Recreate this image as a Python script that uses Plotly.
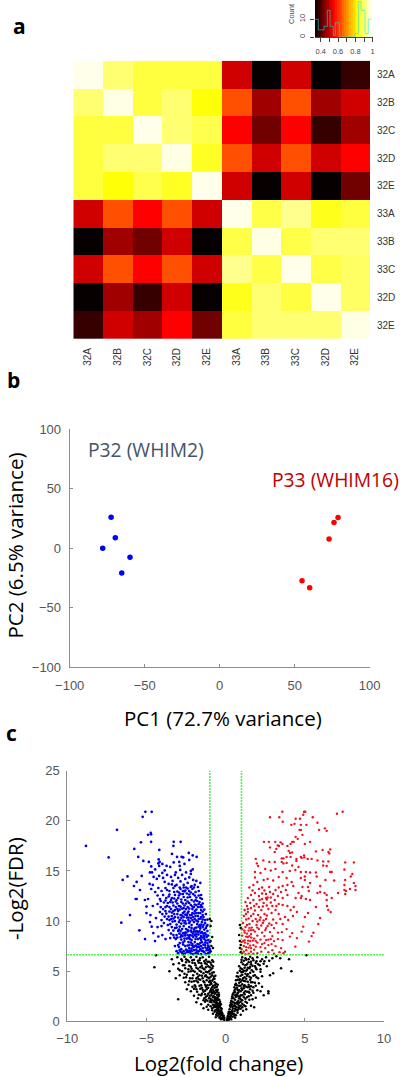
import plotly.graph_objects as go

W, H = 400, 1077
heat_cols = ["32A","32B","32C","32D","32E","33A","33B","33C","32D","32E"]
heat_rows = ["32A","32B","32C","32D","32E","33A","33B","33C","32D","32E"]
heat_z = [
 [.985,.90,.865,.865,.865,.51,.34,.51,.34,.38],
 [.90,.98,.865,.90,.825,.635,.47,.635,.47,.51],
 [.865,.865,.985,.90,.875,.55,.43,.55,.38,.47],
 [.865,.90,.90,.98,.845,.635,.51,.635,.51,.55],
 [.865,.825,.875,.845,.985,.51,.34,.51,.34,.43],
 [.51,.635,.55,.635,.51,.985,.87,.92,.84,.865],
 [.34,.47,.43,.51,.34,.87,.98,.87,.90,.90],
 [.51,.635,.55,.635,.51,.92,.87,.985,.87,.89],
 [.34,.47,.38,.51,.34,.84,.90,.865,.985,.89],
 [.38,.51,.47,.55,.43,.865,.90,.90,.90,.98],
]
key_levels = [.34,.36,.38,.40,.42,.44,.46,.48,.50,.52,.54,.56,.58,.60,.62,.64,.66,.68,.70,.72,.74,.76,.78,.80,.82,.84,.86,.88,.90,.92,.94,.96,.98,1.0]
hist_breaks = [.336,.372,.438,.476,.507,.545,.568,.614,.795,.834,.865,.911,.949,.988]
hist_counts = [10,4,6,15,6,1,8,0,2,20,15,2,10,10]

pc_p32_x = [-72.4,-69.6,-78,-59.8,-65.3]
pc_p32_y = [26,8.7,0,-7.6,-21]
pc_p33_x = [78.9,76.2,72.9,54.9,60]
pc_p33_y = [25.8,21.6,7.6,-27.5,-33.4]

blue_pts = [
(-5.07,20.9),(-4.67,20.9),(-5.24,20.4),(-6.86,19.1),(-4.73,18.8),(-4.9,18.6),(-4.71,18.65),(-8.82,17.5),(-5.35,17.85),(-4.71,17.9),(-3.28,17.9),(-2.84,17.9),(-3.3,17.5),(-5.77,17.2),(-4.19,17.1),(-7.39,16.35),(-5.52,16.4),(-3.39,16.7),(-2.33,16.8),(-2.08,16.55),(-1.83,16.4),(-3.07,16.4),(-2.78,16.4),(-2.68,16.35),(-5.2,16.0),(-4.85,15.9),(-4.23,16.15),(-4.17,15.9),(-4.25,15.75),(-3.28,15.85),(-2.93,15.9),(-2.9,15.5),(-2.6,15.7),(-2.3,16.1),(-4.7,15.45),(-4.2,15.5),(-4.0,15.7),(-3.73,15.5),(-3.5,15.4),(-4.45,15.15),(-4.78,14.85),(-4.65,14.85),(-3.85,15.05),(-4.0,14.8),(-2.87,15.1),(-2.08,15.15),(-3.15,14.85),(-2.5,14.85),(-2.2,15.0),(-2.2,14.7),(-6.2,14.45),(-6.5,14.1),(-5.62,13.9),(-5.79,13.5),(-5.41,13.1),(-5.3,14.5),(-5.68,12.2),(-5.1,12.1),(-5.0,11.45),(-6.59,9.84),(-6.04,10.6),(-5.45,9.08),(-5.09,8.2),(-5.0,10.8),(-4.78,9.9),(-4.67,9.44),(-4.57,8.8),(-4.46,8.0),(-4.25,8.45),(-4.0,8.6),(-3.8,8.2),(-5.62,12.2),(-4.9,12.2),(-4.6,11.5),(-4.75,10.6),(-4.4,10.3),(-4.3,9.4),(-4.05,9.5),
(-4.8,13.7),(-4.6,13.6),(-4.7,13.2),(-4.45,12.9),(-4.55,14.4),(-4.35,14.2),(-4.2,14.5),(-3.95,14.3),(-3.7,14.6),(-3.45,14.4),(-3.2,14.6),(-3.0,14.3),(-2.75,14.6),(-2.55,14.2),(-2.3,14.35),(-2.05,14.1),(-1.85,14.0),(-3.85,13.9),(-3.6,13.7),(-3.35,14.0),(-3.1,13.6),(-2.85,13.95),(-2.65,13.6),(-2.4,13.8),(-2.15,13.5),(-1.95,13.6),(-1.75,13.4),(-1.6,13.8),(-4.25,13.3),(-4.05,13.0),(-3.8,13.3),(-3.55,13.0),(-3.3,13.3),(-3.05,12.95),(-2.9,13.35),(-2.7,13.0),(-2.5,13.35),(-2.3,13.0),(-2.1,13.2),(-1.9,12.9),(-1.7,13.0),(-1.55,12.6),
(-4.3,12.55),(-4.15,12.2),(-3.95,12.6),(-3.75,12.3),(-3.55,12.65),(-3.4,12.3),(-3.2,12.6),(-3.0,12.3),(-2.85,12.7),(-2.65,12.4),(-2.45,12.75),(-2.25,12.4),(-2.05,12.7),(-1.85,12.35),(-1.7,12.55),(-1.5,12.2),(-1.45,11.75),(-4.3,11.7),(-4.1,11.4),(-3.9,11.85),(-3.7,11.5),(-3.5,11.9),(-3.3,11.55),(-3.15,11.95),(-2.95,11.5),(-2.8,11.9),(-2.6,11.55),(-2.4,11.95),(-2.2,11.6),(-2.0,11.95),(-1.85,11.6),(-1.65,11.9),(-1.6,11.4),(-3.05,11.2),(-3.2,11.1),(-2.9,11.15),(-2.75,11.25),(-2.5,11.2),(-2.3,11.25),(-2.1,11.2),(-1.85,11.15),(-1.55,11.1),(-1.35,11.15),(-4.0,10.7),(-3.8,11.0),(-3.55,10.95),(-3.3,11.0),(-2.6,10.95),(-2.35,10.95),(-1.95,11.0),(-1.45,10.95),
(-3.9,9.8),(-3.7,10.2),(-3.5,9.7),(-3.4,10.5),(-3.2,10.0),(-3.05,10.7),(-2.95,9.9),(-2.8,10.3),(-2.7,10.8),(-2.55,10.0),(-2.45,10.6),(-2.3,9.8),(-2.2,10.3),(-2.1,10.8),(-2.0,9.9),(-1.9,10.5),(-1.8,9.7),(-1.7,10.2),(-1.6,10.8),(-1.5,9.9),(-1.4,10.4),(-1.3,9.8),(-1.25,10.7),(-1.15,9.6),(-1.15,10.15),(-2.65,10.4),(-2.35,10.35),(-2.05,10.4),(-1.75,10.5),(-3.0,10.35),(-2.5,9.75),(-2.15,9.6),(-1.65,9.6),
(-3.5,8.3),(-3.3,8.6),(-3.15,8.2),(-3.0,9.0),(-2.85,8.4),(-2.7,8.8),(-2.6,8.25),(-2.5,9.2),(-2.4,8.6),(-2.25,8.2),(-2.15,8.9),(-2.05,8.4),(-1.95,9.3),(-1.85,8.7),(-1.75,8.2),(-1.65,9.0),(-1.55,8.5),(-1.45,9.4),(-1.35,8.2),(-1.3,8.8),(-1.2,8.4),(-1.1,8.1),(-1.15,9.0),(-3.6,9.1),(-3.4,9.4),(-3.2,9.3),(-2.9,9.45),(-2.65,9.5),(-2.3,9.4),(-2.0,8.95),(-1.7,9.45),(-1.25,9.3),(-2.8,8.15),(-2.35,9.0),(-1.95,8.6),(-1.5,8.9),(-2.55,8.55),
(-3.0,6.8),(-2.8,7.2),(-2.7,6.7),(-2.55,7.5),(-2.45,6.9),(-2.3,7.3),(-2.2,6.75),(-2.1,7.7),(-2.0,7.1),(-1.9,6.8),(-1.8,7.4),(-1.7,7.0),(-1.6,7.8),(-1.55,6.7),(-1.45,7.3),(-1.35,6.9),(-1.3,7.6),(-1.2,7.1),(-1.1,6.8),(-1.05,7.4),(-1.0,7.9),(-1.15,7.8),(-2.9,7.8),(-3.2,7.5),(-2.6,8.0),(-2.35,7.9),(-1.95,7.9),(-1.5,7.9),(-2.75,6.85),(-2.05,6.7),(-1.75,6.75),(-1.25,6.7),(-2.5,7.15),(-1.9,7.55),(-1.4,7.65),(-3.1,7.0),(-2.15,7.25),(-1.6,7.2),(-2.3,6.9),(-1.85,7.15),(-1.0,6.9),(-1.0,7.2),
(-2.95,7.4),(-2.65,7.0),(-2.4,7.55),(-2.15,7.0),(-1.98,7.45),(-1.78,7.7),(-1.52,7.05),(-1.28,7.35),(-1.12,7.55),(-2.85,6.95),(-2.58,6.75),(-2.2,7.85),(-1.68,7.4),(-1.42,7.0),(-1.08,7.1),(-2.68,7.65),(-2.28,7.6),(-1.82,6.95),(-2.35,8.3),(-2.12,8.55),(-1.9,8.2),(-1.72,8.65),(-1.48,8.35),(-1.25,8.65),(-1.12,8.55),(-1.58,8.8),(-1.38,8.55),(-2.48,8.85),(-2.72,8.5),(-2.92,8.75),(-3.1,8.6),(-2.25,8.6),(-1.82,9.0),(-1.6,9.25),(-1.35,9.15),(-1.2,9.5),(-2.15,9.3),(-2.4,9.1),(-2.75,9.2),(-2.95,9.15),(-3.3,9.05),(-1.85,9.35),(-1.55,9.65),(-1.3,10.1),(-1.45,10.15),(-1.6,10.25),(-1.85,10.05),(-2.1,10.1),(-2.35,10.1),(-2.6,9.8),(-2.8,9.75),(-3.1,9.65),(-3.35,9.95),(-3.6,10.45),(-3.2,10.4),(-2.85,10.6),(-2.55,10.65),(-2.25,10.6),(-1.98,10.75),(-1.72,10.8),(-1.45,10.6),(-3.4,10.85),(-3.15,11.4),(-2.65,11.3),(-2.4,11.4),(-2.0,11.4),(-1.75,11.4),(-1.48,11.4),(-3.55,11.4),(-3.8,11.4),(-3.95,11.2),(-3.35,11.85),(-3.05,11.75),(-2.7,11.75),(-2.3,11.8),(-1.95,11.65),(-1.7,11.7),(-2.55,12.1),(-2.8,12.15),(-3.1,12.1),(-3.45,12.1),(-3.8,12.05),(-2.15,12.1),(-1.9,12.1),(-1.6,12.3),(-2.4,12.35),(-2.7,12.7),(-2.95,12.85),(-3.25,12.9),(-3.6,12.45),(-2.2,12.85),(-1.95,12.55),(-2.55,13.05),(-2.85,13.2),(-2.4,13.25),(-2.0,13.35),(-2.65,13.35),(-3.2,13.5),(-3.7,13.1),
(-4.05,10.1),(-4.15,10.9),(-3.85,10.45),(-3.65,9.6),(-3.75,10.75),(-3.45,10.2),(-3.25,10.7),(-3.1,9.35),(-2.85,9.0),(-3.45,8.75),(-3.25,8.35),(-3.05,8.35),(-2.8,8.6),(-2.55,8.85),(-2.3,8.4),(-2.05,8.75),(-1.9,8.95),(-1.62,8.3),(-1.42,8.75),(-1.25,8.05),(-2.45,8.25),(-2.7,7.85),(-2.4,7.05),(-2.05,7.4),(-1.7,7.65),(-1.3,7.85),(-2.1,7.55),(-1.55,7.5),(-1.15,7.3),(-2.25,7.05),(-2.9,7.1),(-3.0,7.6),(-2.15,8.1),(-1.85,8.45),(-1.55,8.1),(-1.35,8.4),(-1.75,8.9),(-2.6,8.7),(-2.2,9.05),(-2.0,9.15),(-1.6,9.45),(-1.4,9.6),(-1.75,9.95),(-1.55,10.4),(-1.95,10.2),(-2.25,9.95),(-2.45,10.35),(-2.7,10.05),(-2.9,10.1),(-3.3,10.25),(-3.55,10.1),(-1.85,10.8),(-2.15,10.6),(-2.4,10.8),(-2.75,10.55),(-3.0,11.0),(-3.45,11.2),(-4.1,12.0),(-3.65,11.8),(-2.5,11.75),(-2.1,11.45),(-1.55,11.6),(-2.85,11.45),(-3.25,12.25),(-2.95,12.55),(-2.3,12.65),(-1.8,12.0),(-2.6,12.95),(-2.2,13.4),(-3.4,13.65),
]
red_pts = [
(3.58,20.9),(4.95,20.9),(5.03,20.9),(7.39,20.9),(7.03,20.7),(2.8,20.35),(3.39,20.35),(4.9,20.6),(3.6,19.9),(4.42,20.2),(4.7,20.2),(5.5,20.35),(4.15,19.6),(4.35,19.7),(4.75,19.6),(5.1,19.6),(5.8,19.8),(5.9,19.1),(6.27,19.25),(6.38,19.0),(4.76,19.1),(4.67,19.1),(4.85,18.6),(4.42,18.4),(4.55,18.2),(2.42,17.9),(2.73,17.9),(3.13,17.9),(3.47,17.85),(3.58,17.7),(4.2,17.9),(4.1,17.7),(3.9,17.5),(4.3,17.9),(5.33,17.9),(5.0,17.7),(2.8,17.35),(3.29,17.55),(3.37,17.5),(3.2,17.2),(3.1,16.9),(5.7,16.95),(6.12,17.1),(6.49,16.9),(6.6,17.15),(6.55,16.75),(3.98,17.0),(4.06,16.8),(4.2,16.85),(4.75,16.4),(4.95,16.55),(4.8,16.3),(5.18,16.2),(5.43,16.2),(4.97,16.35),(4.47,16.2),(4.47,16.0),(4.1,16.4),(3.85,16.4),(3.54,16.25),(3.65,16.25),(1.9,16.2),(1.97,15.75),(2.05,15.5),(2.38,16.05),(2.76,15.9),(3.1,15.9),(3.54,15.9),(3.65,15.75),(3.85,15.8),(4.2,15.55),(5.8,16.05),(6.16,15.95),(6.49,15.95),(6.38,15.5),(6.16,15.55),(7.55,15.85),(8.1,15.85),(7.5,15.15),(6.6,14.9),(6.7,14.9),(8.0,14.7),(7.9,14.45),(7.55,14.1),(8.1,13.8),(7.5,13.6),(8.2,13.5),(8.2,13.1),(7.85,13.2),(7.6,13.0),(7.5,13.1),(7.55,12.7),(7.1,12.8),(6.7,12.3),(6.85,14.05),(6.3,14.1),(5.7,14.85),(5.33,14.85),(5.07,14.9),(4.75,14.9),(5.0,14.45),(4.75,14.3),(5.0,14.1),(5.75,14.45),(5.33,13.8),(5.97,13.5),(5.2,13.4),(4.85,13.4),(5.25,13.0),(5.8,12.8),(5.97,12.9),(6.25,12.8),(6.38,12.6),(6.38,12.1),(6.4,11.5),(5.7,11.4),(4.8,12.5),(5.07,12.2),(5.33,12.1),(4.75,12.3),(4.42,12.3),(4.27,13.5),(4.17,13.9),(4.6,12.8),
(6.48,11.1),(6.63,10.9),(5.96,10.3),(5.85,9.7),(5.54,8.84),(5.43,8.5),(5.26,7.95),(4.9,9.44),(4.8,8.95),(5.0,10.4),(5.2,10.8),(4.5,8.3),(4.2,8.8),(4.4,7.45),(4.06,8.45),(3.75,6.95),(3.5,7.3),(3.65,6.8),(3.4,6.9),(4.5,10.9),(4.3,11.4),(4.1,11.1),(3.9,11.5),(4.25,10.5),(3.95,10.1),(3.75,10.4),(3.6,9.7),(3.85,9.2),(3.55,8.9),(3.3,8.2),(3.6,8.1),(3.15,7.5),(2.95,7.1),(2.7,6.9),(2.5,7.3),
(3.6,13.5),(3.35,13.35),(3.15,13.1),(3.5,12.9),(3.8,13.1),(3.0,12.7),(3.3,12.5),(3.6,12.3),(3.9,12.6),(2.8,12.9),(2.55,12.7),(2.3,12.75),(2.1,12.5),(1.85,12.8),(1.6,12.6),(2.65,14.2),(2.4,14.1),(2.0,13.9),(3.0,14.05),(3.35,14.4),(3.6,14.9),(3.15,15.2),(2.85,15.05),(2.5,15.2),(2.2,14.8),(1.75,13.6),(1.5,13.35),(1.85,14.35),(2.3,13.35),(2.75,13.4),
(1.2,11.1),(1.35,11.5),(1.55,11.8),(1.75,12.1),(1.95,11.7),(2.15,12.1),(2.4,11.8),(2.6,12.15),(2.85,11.85),(3.1,12.1),(3.35,11.7),(3.6,11.6),(1.15,10.5),(1.4,10.9),(1.6,10.5),(1.85,11.05),(2.05,10.6),(2.25,11.1),(2.45,10.7),(2.7,11.2),(2.9,10.8),(3.15,11.1),(3.35,10.7),(1.1,9.8),(1.3,10.15),(1.5,9.7),(1.7,10.0),(1.95,9.6),(2.15,10.1),(2.35,9.8),(2.55,10.2),(2.75,9.75),(3.0,10.15),(3.2,9.8),(3.45,10.2),(1.05,9.2),(1.25,9.4),(1.45,9.05),(1.65,9.35),(1.85,8.95),(2.1,9.2),(2.3,8.85),(2.55,9.3),(2.8,8.9),(3.05,9.3),(3.3,8.85),(1.05,8.55),(1.2,8.85),(1.4,8.4),(1.6,8.7),(1.8,8.25),(2.0,8.55),(2.2,8.15),(2.45,8.5),(2.7,8.15),(2.95,8.5),(1.0,7.9),(1.2,8.1),(1.4,7.75),(1.55,8.0),(1.75,7.6),(2.0,7.85),(2.2,7.4),(2.45,7.8),(2.7,7.6),(1.0,7.2),(1.15,7.5),(1.3,7.1),(1.45,7.35),(1.6,6.95),(1.8,7.15),(2.0,6.8),(2.25,6.95),(1.05,6.8),(1.25,6.7),(1.45,6.75),(1.75,6.75),(2.9,7.7),(3.05,6.75),(1.1,8.0),(1.5,8.5),(1.75,9.1),(2.0,9.95),(2.5,9.1),(2.2,10.35),(1.9,10.2),(1.6,9.1),(1.35,9.6),
(1.85,14.9),(1.7,13.05),(1.4,12.3),(1.25,11.9),(2.1,13.2),(2.45,13.05),(2.65,12.35),(3.85,14.3),(4.05,15.0),(3.9,13.6),(4.4,15.1),(4.6,15.4),
(1.22,7.85),(1.3,8.45),(1.42,8.05),(1.55,7.55),(1.62,8.35),(1.72,8.05),(1.9,8.0),(1.18,9.05),(1.35,8.75),(1.5,9.3),(2.0,9.35),(2.25,9.55),(2.4,10.05),(2.6,10.55),(2.1,11.4),(2.35,11.45),(2.6,11.55),(2.3,12.2),(2.55,12.3),(2.85,12.35),(2.95,11.5),(3.2,11.5),(1.6,11.3),(1.8,11.5),(1.45,10.25),(1.75,10.7),(1.28,10.7),(2.65,9.5),(2.9,9.6),(1.3,7.4),(1.15,6.95),(1.6,7.3),(1.9,7.45),(2.3,7.7),(2.55,8.1),(2.85,8.2),(3.05,8.0),(1.4,11.2),
]
black_pts = [
(-1.0,10.2),(-0.9,10.0),(-0.95,9.5),(-0.85,8.4),(-0.95,8.0),(-0.9,7.5),(-0.8,7.3),(-0.95,7.0),(0.9,9.6),(0.95,9.3),(0.85,8.6),(0.9,8.0),(0.95,7.6),(0.9,7.3),(0.95,6.9),(-4.5,5.4),(4.15,5.0),(-3.0,2.2),(-4.4,6.6),(5.1,6.6),(3.2,6.5),(4.0,6.2),(3.5,5.3),(3.0,4.8),(2.8,4.6),(2.7,3.0),(2.7,2.8),(2.4,2.6),(-3.4,6.2),(-3.3,5.7),(-3.55,5.0),(3.45,6.3),(-3.15,4.3),
(-3.05,6.4),(-2.8,6.2),(-2.6,6.45),(-2.4,6.1),(-2.2,6.4),(-2.0,6.15),(-1.85,6.45),(-1.65,6.1),(-1.45,6.4),(-1.25,6.15),(-1.05,6.45),(-0.85,6.1),(-2.95,5.8),(-2.7,5.6),(-2.5,5.9),(-2.3,5.55),(-2.1,5.85),(-1.9,5.6),(-1.7,5.85),(-1.5,5.55),(-1.3,5.8),(-1.1,5.5),(-0.95,5.85),(-0.8,5.5),(-3.0,5.25),(-2.75,5.0),(-2.55,5.3),(-2.35,4.95),(-2.15,5.25),(-1.95,4.95),(-1.75,5.25),(-1.55,4.95),(-1.35,5.2),(-1.15,4.9),(-0.95,5.15),(-0.75,4.9),(-2.9,4.6),(-2.65,4.35),(-2.45,4.65),(-2.25,4.3),(-2.05,4.6),(-1.85,4.3),(-1.65,4.6),(-1.45,4.3),(-1.25,4.6),(-1.05,4.3),(-0.85,4.6),(-0.7,4.25),(-2.55,3.9),(-2.35,3.65),(-2.15,3.95),(-1.95,3.6),(-1.75,3.9),(-1.55,3.6),(-1.35,3.9),(-1.15,3.6),(-0.95,3.85),(-0.8,3.55),(-0.6,3.75),(-2.45,3.2),(-2.2,3.0),(-2.0,3.25),(-1.8,2.95),(-1.6,3.25),(-1.4,2.95),(-1.2,3.2),(-1.0,2.9),(-0.8,3.15),(-0.65,2.85),(-0.5,3.15),(-2.0,2.55),(-1.75,2.3),(-1.55,2.6),(-1.35,2.3),(-1.15,2.55),(-0.95,2.25),(-0.75,2.5),(-0.6,2.2),(-0.45,2.5),(-1.85,1.9),(-1.55,1.7),(-1.3,1.95),(-1.1,1.65),(-0.9,1.9),(-0.7,1.6),(-0.55,1.85),(-0.4,1.55),(-0.35,1.95),(-1.4,1.3),(-1.1,1.15),(-0.85,1.3),(-0.65,1.1),(-0.5,1.3),(-0.35,1.05),(-0.25,1.25),(-0.8,0.75),(-0.6,0.65),(-0.45,0.75),(-0.3,0.6),(-0.2,0.75),(-0.4,0.35),(-0.25,0.3),(-0.15,0.4),(-0.1,0.2),(-0.05,0.1),(0.0,0.05),
(-2.2,5.0),(-1.8,4.75),(-1.4,4.8),(-1.0,4.75),(-2.0,4.0),(-1.6,4.15),(-1.2,4.1),(-0.85,4.05),(-1.9,3.45),(-1.5,3.35),(-1.1,3.35),(-0.7,3.35),(-1.5,2.75),(-1.1,2.75),(-0.7,2.75),(-0.55,2.65),(-1.25,2.15),(-0.85,2.1),(-0.5,2.1),(-0.3,1.7),(-0.75,1.4),(-0.45,1.45),(-2.6,5.6),(-1.6,5.4),(-1.0,5.4),(-0.9,2.95),(-0.9,2.6),(-0.6,3.1),(-0.5,1.0),(-0.35,0.85),(-0.75,3.0),(-0.65,2.4),(-0.45,1.75),(-0.6,2.05),(-0.55,1.55),(-0.7,1.9),
(1.05,6.4),(1.3,6.15),(1.55,6.45),(1.75,6.1),(2.0,6.4),(2.3,6.2),(2.55,6.4),(2.75,6.05),(2.95,6.3),(1.0,5.9),(1.25,5.6),(1.45,5.9),(1.7,5.55),(1.9,5.85),(2.15,5.6),(2.4,5.75),(2.6,5.5),(0.85,5.5),(1.05,5.2),(1.3,5.05),(1.5,5.3),(1.75,4.95),(1.95,5.2),(2.2,4.95),(0.75,4.85),(0.95,4.55),(1.2,4.4),(1.4,4.7),(1.6,4.35),(1.85,4.6),(2.05,4.3),(2.3,4.5),(0.65,4.1),(0.85,3.85),(1.05,3.7),(1.25,4.0),(1.45,3.65),(1.7,3.9),(1.9,3.55),(2.1,3.8),(2.3,3.45),(0.55,3.4),(0.75,3.15),(0.95,3.0),(1.15,3.3),(1.35,2.95),(1.55,3.2),(1.75,2.85),(2.0,3.1),(2.2,3.0),(0.45,2.7),(0.65,2.45),(0.85,2.3),(1.05,2.6),(1.25,2.25),(1.45,2.5),(1.7,2.2),(1.9,2.35),(0.35,2.05),(0.55,1.85),(0.75,1.7),(0.95,1.95),(1.15,1.6),(1.35,1.85),(1.6,1.55),(1.8,1.4),(0.3,1.45),(0.45,1.25),(0.65,1.15),(0.85,1.35),(1.1,1.05),(1.3,1.2),(0.2,0.95),(0.35,0.8),(0.55,0.7),(0.75,0.85),(0.95,0.65),(0.15,0.55),(0.3,0.4),(0.45,0.45),(0.6,0.35),(0.1,0.25),(0.2,0.15),(0.05,0.1),
(0.9,4.2),(1.1,4.95),(1.55,4.15),(1.0,3.3),(0.7,3.6),(1.3,3.45),(0.75,2.75),(1.2,2.7),(0.5,2.3),(0.95,2.6),(0.4,1.7),(0.6,1.5),(1.05,1.4),(0.85,1.85),(1.5,2.85),(0.6,2.9),(1.75,3.4),(2.2,5.2),(1.2,5.35),(1.6,5.7),
(-2.5,6.2),(-2.3,5.95),(-2.1,6.1),(-1.95,5.8),(-1.75,6.05),(-1.55,5.8),(-1.35,6.0),(-1.2,5.7),(-1.05,5.95),(-0.9,5.65),(-2.2,5.45),(-1.85,5.35),(-1.45,5.3),(-1.25,5.4),(-0.85,5.3),(-2.05,5.05),(-1.65,5.05),(-1.25,4.95),(-1.05,5.0),(-0.85,4.85),(-2.5,4.4),(-2.1,4.3),(-1.75,4.45),(-1.5,4.55),(-1.15,4.4),(-0.95,4.45),(-0.75,4.45),(-0.65,4.55),(-1.85,4.05),(-1.4,4.0),(-1.05,3.95),(-0.9,3.75),(-0.7,3.9),(-0.6,3.4),(-1.65,3.55),(-1.3,3.65),(-1.0,3.65),(-0.85,3.4),(-0.55,3.45),(-0.45,2.85),(-1.3,3.05),(-0.95,3.1),(-0.75,2.9),(-1.7,2.65),(-1.25,2.45),(-1.05,2.3),(-0.8,2.4),(-0.55,2.35),(-0.4,2.15),(-1.4,2.1),(-1.0,1.95),(-0.75,2.05),(-0.6,1.75),(-0.5,1.6),(-0.35,1.55),(-1.2,1.45),(-0.95,1.5),(-0.8,1.65),(-0.6,1.4),(-0.45,1.15),(-0.3,1.3),(-0.7,0.95),(-0.55,0.85),(-0.4,0.95),(-0.25,0.9),(-0.5,0.55),(-0.35,0.45),(-0.2,0.55),(-0.12,0.55),(-0.15,0.2),(-0.3,0.2),
(1.15,6.05),(1.45,6.2),(1.7,6.3),(1.95,6.0),(2.2,6.0),(1.35,5.7),(1.6,5.95),(1.1,5.7),(1.85,5.5),(2.05,5.7),(1.15,5.05),(1.4,5.35),(1.65,5.1),(1.9,5.35),(0.9,5.05),(1.0,4.9),(1.25,4.75),(1.55,4.85),(1.75,4.55),(0.8,4.45),(1.1,4.3),(1.3,4.25),(1.5,4.45),(1.95,4.4),(0.75,4.15),(0.95,3.95),(1.15,4.05),(1.4,3.95),(1.6,3.9),(1.85,3.85),(0.65,3.75),(0.85,3.55),(1.2,3.6),(1.4,3.4),(1.6,3.5),(0.6,3.2),(0.8,2.9),(1.05,3.15),(1.25,3.0),(1.45,2.95),(1.7,3.05),(0.5,2.85),(0.7,2.65),(0.9,2.45),(1.15,2.85),(1.35,2.4),(1.6,2.6),(0.4,2.3),(0.6,2.15),(0.8,2.05),(1.05,2.1),(1.25,1.95),(1.5,2.15),(0.45,1.95),(0.65,1.8),(0.85,1.55),(1.05,1.75),(1.25,1.5),(0.35,1.65),(0.5,1.5),(0.7,1.4),(0.95,1.25),(0.25,1.2),(0.4,1.05),(0.55,1.0),(0.75,1.05),(0.2,0.7),(0.3,0.65),(0.45,0.75),(0.65,0.6),(0.15,0.35),(0.25,0.3),(0.35,0.2),
(-1.15,5.95),(-0.78,5.95),(-1.62,6.3),(-2.75,6.05),(-2.35,5.2),(-2.9,5.1),(-2.6,4.75),(-1.3,4.5),(-0.78,4.2),(-0.98,4.05),(-1.7,4.2),(-2.3,4.0),(-1.25,3.45),(-0.68,3.6),(-0.5,3.65),(-0.9,3.25),(-1.45,3.15),(-2.1,3.45),(-1.85,3.2),(-0.55,2.95),(-0.42,2.65),(-0.85,2.8),(-1.0,2.55),(-1.3,2.7),(-0.68,2.25),(-0.5,2.3),(-0.38,1.8),(-0.95,2.05),(-1.15,2.05),(-0.65,1.5),(-0.42,1.4),(-0.28,1.05),(-0.85,1.1),(-0.55,1.15),(-0.38,0.7),(-0.28,0.75),(-0.62,0.4),(-0.18,0.25),(-0.08,0.35),
(1.0,6.15),(1.25,6.3),(2.45,6.0),(1.55,5.45),(1.35,5.15),(0.95,5.3),(1.05,4.65),(0.7,4.5),(0.85,4.15),(1.35,4.55),(1.05,4.1),(0.6,3.65),(0.95,3.55),(1.15,3.5),(0.72,3.35),(1.5,3.45),(0.55,3.05),(0.85,3.1),(0.42,2.5),(0.6,2.6),(0.78,2.5),(0.95,2.2),(1.15,2.4),(0.32,1.85),(0.55,1.6),(0.72,1.9),(0.95,1.55),(0.28,1.6),(0.42,1.45),(0.6,1.25),(0.8,1.2),(0.18,0.8),(0.3,0.9),(0.42,0.95),(0.55,0.55),(0.12,0.45),(0.22,0.45),(0.35,0.55),(0.08,0.05),
]

def fx(p): return p / W
def fy(p): return 1 - p / H
def sx(pts): return [p[0] for p in pts]
def sy(pts): return [p[1] for p in pts]

hot = [[0,"#000000"],[(0.55-.334)/.666,"#ff0000"],[(0.82-.334)/.666,"#ffff00"],[1,"#ffffff"]]
TICK = dict(family="Liberation Sans", size=13, color="#555555")
GREEN = "#14f014"
DOT = "1.5px,1.5px"
fig = go.Figure()

fig.add_trace(go.Heatmap(z=heat_z, x=list(range(10)), y=list(range(10)), colorscale=hot, zmin=.334, zmax=1, showscale=False, xaxis="x", yaxis="y", hoverinfo="skip"))
fig.add_trace(go.Heatmap(z=[key_levels], x=key_levels, y=[0, 20.8], colorscale=hot, zmin=.334, zmax=1, showscale=False, xaxis="x2", yaxis="y2", hoverinfo="skip"))
fig.add_trace(go.Scatter(x=hist_breaks, y=hist_counts, mode="lines", line=dict(shape="hv", color="rgba(0,240,230,0.55)", width=1), xaxis="x2", yaxis="y2", showlegend=False))

fig.add_trace(go.Scatter(x=pc_p32_x, y=pc_p32_y, mode="markers", marker=dict(color="#0000ff", size=5.5), xaxis="x3", yaxis="y3", showlegend=False))
fig.add_trace(go.Scatter(x=pc_p33_x, y=pc_p33_y, mode="markers", marker=dict(color="#ff0000", size=5.5), xaxis="x3", yaxis="y3", showlegend=False))

for vx in (-1, 1):
    fig.add_trace(go.Scatter(x=[vx, vx], y=[6.64, 25], mode="lines", line=dict(color=GREEN, width=1.6, dash=DOT), xaxis="x4", yaxis="y4", showlegend=False))
fig.add_trace(go.Scatter(x=sx(black_pts), y=sy(black_pts), mode="markers", marker=dict(color="#000000", size=2.5), xaxis="x4", yaxis="y4", showlegend=False))
fig.add_trace(go.Scatter(x=sx(blue_pts), y=sy(blue_pts), mode="markers", marker=dict(color="#0000e6", size=2.7), xaxis="x4", yaxis="y4", showlegend=False))
fig.add_trace(go.Scatter(x=sx(red_pts), y=sy(red_pts), mode="markers", marker=dict(color="#f01020", size=2.4), xaxis="x4", yaxis="y4", showlegend=False))
fig.add_trace(go.Scatter(x=[-10, 10], y=[6.64, 6.64], mode="lines", line=dict(color=GREEN, width=1.6, dash=DOT), xaxis="x4", yaxis="y4", showlegend=False))

def plain_axis(**kw):
    d = dict(showgrid=False, zeroline=False, showline=True, linecolor="#8c8c8c", linewidth=1, ticks="inside", ticklen=3, tickcolor="#8c8c8c", tickfont=TICK, mirror=False, ticklabelstandoff=4)
    d.update(kw)
    return d

lab = dict(family="Liberation Sans", size=10, color="#333333")
fig.update_layout(
    width=W, height=H, margin=dict(l=0, r=0, t=0, b=0, autoexpand=False), paper_bgcolor="white", plot_bgcolor="white", showlegend=False,
    xaxis=dict(domain=[fx(73.3), fx(370)], anchor="y", range=[-.5, 9.5], tickvals=list(range(10)), ticktext=heat_cols, tickangle=-90, tickfont=lab, ticks="", showgrid=False, zeroline=False, showline=False, ticklabelstandoff=6),
    yaxis=dict(domain=[fy(339), fy(60.7)], anchor="x", range=[9.5, -.5], tickvals=list(range(10)), ticktext=heat_rows, side="right", tickfont=lab, ticks="", showgrid=False, zeroline=False, showline=False, ticklabelstandoff=6),
    xaxis2=dict(domain=[fx(315), fx(372.7)], anchor="y2", range=[.334, 1.0], tickvals=[.4,.5,.6,.7,.8,.9,1], ticktext=["0.4","","0.6","","0.8","","1"], ticks="outside", ticklen=4, tickcolor="#444", tickfont=dict(family="Liberation Sans", size=7.5, color="#444"), showgrid=False, zeroline=False, showline=True, linecolor="#444", linewidth=.5, ticklabelstandoff=3),
    yaxis2=dict(domain=[fy(37), 1], anchor="x2", range=[0, 20.8], tickvals=[0, 10], tickangle=-90, ticks="outside", ticklen=4, tickcolor="#444", tickfont=dict(family="Liberation Sans", size=7.5, color="#444"), showgrid=False, zeroline=False, showline=False, ticklabelstandoff=2),
    xaxis3=plain_axis(domain=[fx(69.7), fx(369.7)], anchor="y3", range=[-100, 100], tickvals=[-100,-50,0,50,100], ticklabelstandoff=6),
    yaxis3=plain_axis(domain=[fy(667), fy(429.3)], anchor="x3", range=[-100, 100], tickvals=[-100,-50,0,50,100], ticklabelstandoff=5),
    xaxis4=plain_axis(domain=[fx(67.3), fx(384)], anchor="y4", range=[-10, 10], tickvals=[-10,-5,0,5,10], ticklabelstandoff=5),
    yaxis4=plain_axis(domain=[fy(1021.3), fy(770.7)], anchor="x4", range=[0, 25], tickvals=[0,5,10,15,20,25], ticklabelstandoff=4),
)

def note(text, x, y, size, color="#000000", angle=0, bold=False, family="Open Sans"):
    fig.add_annotation(text=f"<b>{text}</b>" if bold else text, x=x / W, y=1 - y / H, xref="paper", yref="paper", showarrow=False, font=dict(family=family, size=size, color=color), textangle=angle, xanchor="center", yanchor="middle")

note("a", 19, 26, 21, bold=True)
note("b", 13, 380, 21, bold=True)
note("c", 11, 733, 21, bold=True)
note("Count", 292, 14, 7.5, "#444444", -90, family="Liberation Sans")
note("P32 (WHIM2)", 146, 449, 19.3, "#44546A")
note("P33 (WHIM16)", 335, 479, 19.3, "#C00000")
note("PC2 (6.5% variance)", 14.5, 546, 20.5, angle=-90)
note("PC1 (72.7% variance)", 223, 718, 20.5)
note("-Log2(FDR)", 15, 889, 20.5, angle=-90)
note("Log2(fold change)", 218, 1062.5, 20.5)

fig.write_html("out.html", config=dict(displayModeBar=False), post_script="document.body.style.margin='0';")
